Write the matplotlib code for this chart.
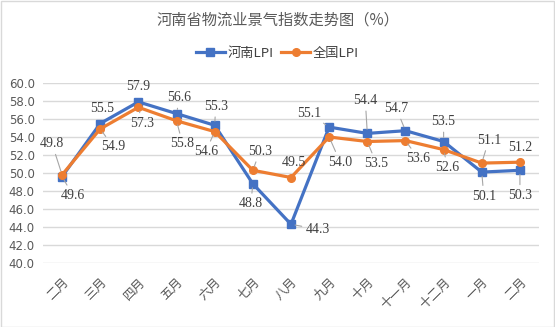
import matplotlib
matplotlib.use("Agg")
import matplotlib.pyplot as plt
from matplotlib.patches import Rectangle

plt.rcParams['font.family'] = ['Noto Sans CJK SC', 'DejaVu Sans']

months = ["二月", "三月", "四月", "五月", "六月", "七月", "八月", "九月", "十月", "十一月", "十二月", "一月", "二月"]
henan = [49.6, 55.5, 57.9, 56.6, 55.3, 48.8, 44.3, 55.1, 54.4, 54.7, 53.5, 50.1, 50.3]
national = [49.8, 54.9, 57.3, 55.8, 54.6, 50.3, 49.5, 54.0, 53.5, 53.6, 52.6, 51.1, 51.2]
yticks = [40, 42, 44, 46, 48, 50, 52, 54, 56, 58, 60]

# label offsets in pixels (dx, dy upward positive)
henan_off = [(11, -19), (2, 15), (0, 15), (3, 16), (1, 19), (-2, -20), (27, -5), (-20, 14), (-2, 33), (-9, 22), (0, 20), (2, -24), (0, -25)]
nat_off = [(-10, 31), (13, -18), (4, -16), (6, -23), (-9, -20), (7, 19), (3, 15), (11, -25), (9, -22), (13, -18), (4, -18), (7, 23), (0, 15)]

W, H = 555, 327
fig = plt.figure(figsize=(W/100, H/100), dpi=100)
fig.patches.append(Rectangle((0.5/W, 0.5/H), 1-1.5/W, 1-1.5/H, transform=fig.transFigure,
                             fill=False, edgecolor='#d9d9d9', linewidth=1))
ax = fig.add_axes([43/W, 1-263/H, (539-43)/W, (263-83)/H])

x = list(range(len(months)))
blue = '#4472C4'
orange = '#ED7D31'
ax.plot(x, henan, color=blue, lw=2.3, marker='s', ms=5.5, label='河南LPI', zorder=3)
ax.plot(x, national, color=orange, lw=2.3, marker='o', ms=5.5, label='全国LPI', zorder=3)

ax.set_xlim(-0.5, len(months)-0.5)
ax.set_ylim(40, 60)
ax.set_yticks(yticks)
ax.set_yticklabels([f"{v:.1f}" for v in yticks], fontsize=8.5, color='#595959', family=['DejaVu Sans'])
ax.set_xticks(x)
ax.set_xticklabels(months, rotation=45, ha='right', rotation_mode='anchor', fontsize=9, color='#595959')
ax.tick_params(axis='x', length=0, pad=9)
ax.tick_params(axis='y', length=0, pad=6)
ax.grid(axis='y', color='#d9d9d9', lw=1)
ax.set_axisbelow(True)
for s in ax.spines.values():
    s.set_visible(False)

def label(xi, yi, txt, off):
    dx, dy = off
    dist = (dx*dx + dy*dy) ** 0.5
    ap = dict(arrowstyle='-', color='#a6a6a6', lw=0.8, shrinkA=1, shrinkB=3) if dist > 16 else None
    ax.annotate(txt, (xi, yi), xytext=(dx, dy), textcoords='offset pixels',
                ha='center', va='center', fontsize=10, color='#404040',
                family=['Liberation Serif'], arrowprops=ap, zorder=4)

for i in x:
    label(i, henan[i], f"{henan[i]:.1f}", henan_off[i])
    label(i, national[i], f"{national[i]:.1f}", nat_off[i])

fig.text(0.5, 1-20/H, "河南省物流业景气指数走势图（%）", ha='center', va='center', fontsize=11, color='#595959')
leg = fig.legend(loc='center', bbox_to_anchor=(0.5, 1-53/H), ncol=2, frameon=False,
                 fontsize=9.5, handlelength=2.2, columnspacing=0.6, handletextpad=0.2)
for t in leg.get_texts():
    t.set_color('#404040')

fig.savefig('out.png', dpi=100)
